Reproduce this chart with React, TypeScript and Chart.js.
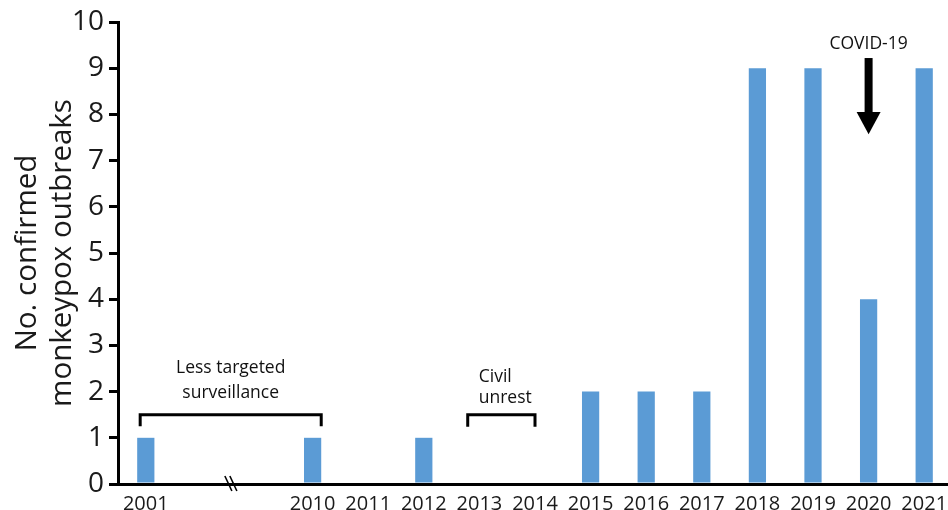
import React, { useEffect, useRef } from "react";
import { Chart, registerables } from "chart.js";

Chart.register(...registerables);

// ---- data ----
const categories: string[] = ["2001", "", "", "2010", "2011", "2012", "2013", "2014", "2015", "2016", "2017", "2018", "2019", "2020", "2021"];
const outbreaks: number[] = [1, 0, 0, 1, 0, 1, 0, 0, 2, 2, 2, 9, 9, 4, 9];
const yTitle: string[] = ["No. confirmed", "monkeypox outbreaks"];
const surveillanceLabel: string[] = ["Less targeted", "surveillance"];
const unrestLabel: string[] = ["Civil", "unrest"];
const covidLabel = "COVID-19";

const BAR_COLOR = "#5B9BD5";
const FONT = "'Open Sans', sans-serif";

const annotationPlugin = {
  id: "annotations",
  afterDraw(chart: any) {
    const ctx = chart.ctx;
    const xs = chart.scales.x;
    const ys = chart.scales.y;
    const bars = chart.getDatasetMeta(0).data;
    const idx = (c: string) => categories.indexOf(c);
    ctx.save();
    ctx.strokeStyle = "#000";
    ctx.fillStyle = "#111";
    ctx.lineWidth = 3;
    ctx.lineCap = "butt";

    const bracket = (x1: number, x2: number, yTop: number, yLeg: number) => {
      const yt = ys.getPixelForValue(yTop);
      const yl = ys.getPixelForValue(yLeg);
      ctx.beginPath();
      ctx.moveTo(x1, yl);
      ctx.lineTo(x1, yt);
      ctx.lineTo(x2, yt);
      ctx.lineTo(x2, yl);
      ctx.stroke();
    };

    // Less targeted surveillance
    const b1 = bars[idx("2001")];
    const b2 = bars[idx("2010")];
    const sx1 = b1.x - b1.width / 2 + 3;
    const sx2 = b2.x + b2.width / 2;
    bracket(sx1, sx2, 1.5, 1.25);
    ctx.font = `17.5px ${FONT}`;
    ctx.textAlign = "center";
    ctx.textBaseline = "middle";
    const sMid = (sx1 + sx2) / 2;
    ctx.fillText(surveillanceLabel[0], sMid, ys.getPixelForValue(2.5));
    ctx.fillText(surveillanceLabel[1], sMid, ys.getPixelForValue(1.96));

    // Civil unrest
    const ux1 = xs.getPixelForValue(idx("2013") - 0.21);
    const ux2 = xs.getPixelForValue(idx("2014"));
    bracket(ux1, ux2, 1.5, 1.24);
    ctx.textAlign = "left";
    ctx.fillText(unrestLabel[0], ux1 + 11, ys.getPixelForValue(2.31));
    ctx.fillText(unrestLabel[1], ux1 + 11, ys.getPixelForValue(1.86));

    // COVID-19 arrow
    const cx = xs.getPixelForValue(idx("2020"));
    ctx.textAlign = "center";
    ctx.fillText(covidLabel, cx, ys.getPixelForValue(9.52));
    const yS = ys.getPixelForValue(9.22);
    const yH = ys.getPixelForValue(8.05);
    const yT = ys.getPixelForValue(7.57);
    ctx.fillStyle = "#000";
    ctx.fillRect(cx - 4, yS, 8, yH - yS + 1);
    ctx.beginPath();
    ctx.moveTo(cx - 12, yH);
    ctx.lineTo(cx + 12, yH);
    ctx.lineTo(cx, yT);
    ctx.closePath();
    ctx.fill();

    // axis break mark
    const bx = xs.getPixelForValue(1.53);
    const by = ys.getPixelForValue(0);
    ctx.lineWidth = 1.6;
    for (const off of [-2.5, 2.5]) {
      ctx.beginPath();
      ctx.moveTo(bx + off - 3.5, by - 8);
      ctx.lineTo(bx + off + 3.5, by + 7);
      ctx.stroke();
    }
    ctx.restore();
  },
};

export default function App() {
  const ref = useRef<HTMLCanvasElement>(null);
  useEffect(() => {
    document.body.style.margin = "0";
    document.body.style.overflow = "hidden";
    const chart = new Chart(ref.current as HTMLCanvasElement, {
      type: "bar",
      data: {
        labels: categories,
        datasets: [
          {
            data: outbreaks,
            backgroundColor: BAR_COLOR,
            barPercentage: 0.31,
            categoryPercentage: 1,
          },
        ],
      },
      options: {
        animation: false,
        responsive: false,
        devicePixelRatio: 1,
        layout: { padding: { top: 22, right: 0, bottom: 0, left: 0 } },
        plugins: { legend: { display: false }, tooltip: { enabled: false } },
        scales: {
          x: {
            grid: { display: false },
            border: { display: true, color: "#000", width: 3 },
            ticks: { color: "#1a1a1a", font: { family: FONT, size: 20 }, padding: 0, maxRotation: 0, autoSkip: false },
            afterFit: (s: any) => { s.height = 26; },
          },
          y: {
            min: 0,
            max: 10,
            grid: { drawOnChartArea: false, drawTicks: true, tickLength: 9, color: "#000", lineWidth: 3 },
            border: { display: true, color: "#000", width: 3 },
            ticks: { stepSize: 1, color: "#1a1a1a", font: { family: FONT, size: 28 }, padding: 5 },
            title: {
              display: true,
              text: yTitle,
              color: "#1a1a1a",
              font: { family: FONT, size: 29.5, lineHeight: 1.19 },
              padding: { top: 10, bottom: 0 },
            },
            afterFit: (s: any) => { s.width = 118; },
          },
        },
      },
      plugins: [annotationPlugin],
    });
    return () => chart.destroy();
  }, []);
  return (
    <div style={{ position: "fixed", left: 0, top: 0, width: 948, height: 510, overflow: "hidden", background: "#fff" }}>
      <canvas ref={ref} width={952} height={510} style={{ display: "block" }} />
    </div>
  );
}
